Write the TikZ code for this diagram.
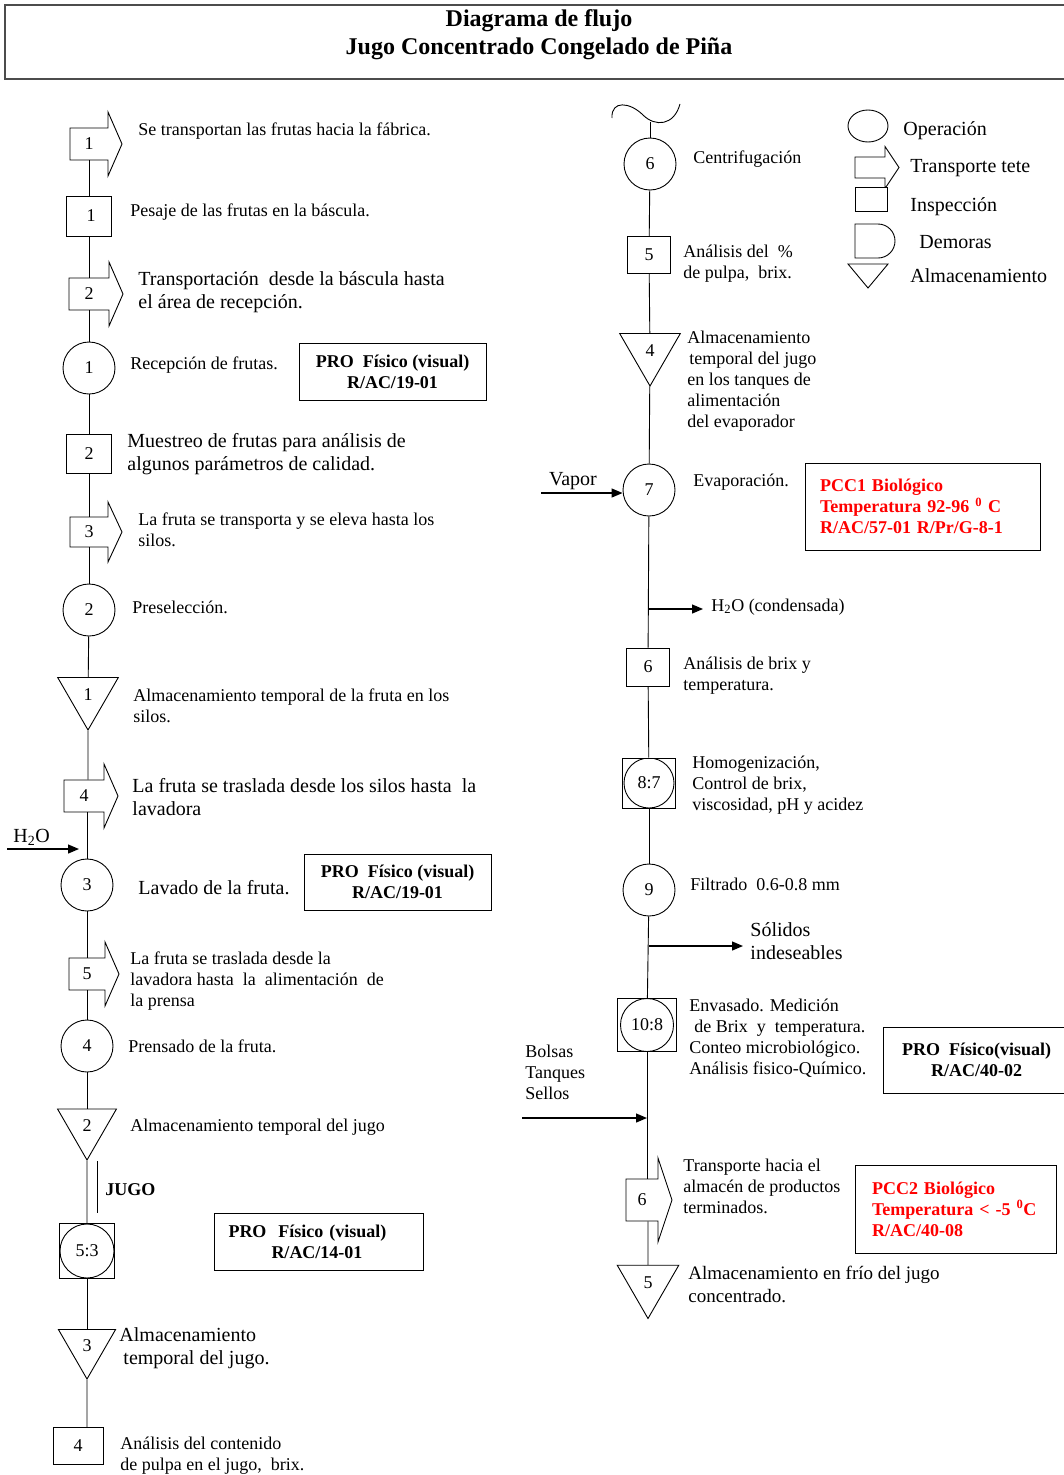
\documentclass[tikz,border=0pt]{standalone}
\usepackage{fontspec}
\setmainfont{Liberation Serif}
\usetikzlibrary{shapes.geometric,arrows.meta,calc}

\definecolor{pccrojo}{RGB}{255,0,0}
\newcommand{\letra}{\fontsize{18}{21}\selectfont}
\newcommand{\letrag}{\fontsize{20}{23}\selectfont}

% flecha de transporte: nombre, posicion, numero, media anchura, media altura
\newcommand{\transporte}[5]{%
  \draw[fill=white] ($(#2)+(-#4,-#5)$) -- ($(#2)+(#4,-#5)$) -- ($(#2)+(#4,-2*#5)$)
    -- ($(#2)+(#4+14,0)$) -- ($(#2)+(#4,2*#5)$) -- ($(#2)+(#4,#5)$) -- ($(#2)+(-#4,#5)$) -- cycle;
  \node[minimum width=2*#4, minimum height=2*#5, inner sep=0pt] (#1) at (#2) {#3};}

\begin{document}
\begin{tikzpicture}[x=1pt, y=-1pt, line width=0.9pt]

    \tikzset{
      every node/.style={font=\letra},
      op/.style={circle, draw, fill=white, minimum size=52pt, inner sep=0pt},
      insp/.style={rectangle, draw, fill=white, minimum width=44pt, minimum height=39pt, inner sep=0pt},
      alm/.style={regular polygon, regular polygon sides=3, shape border rotate=180,
        draw, fill=white, minimum size=70pt, inner sep=0pt},
      combo/.style={rectangle, draw, fill=white, inner sep=0pt,
        path picture={\draw[line width=0.9pt] (path picture bounding box.center) circle[radius=#1];}},
      txt/.style={anchor=west, align=left, inner sep=0pt},
      txtg/.style={txt, font=\letrag},
      pro/.style={draw, fill=white, inner sep=0pt, align=center, font=\letra\bfseries},
      pcc/.style={draw, fill=white, inner sep=0pt, align=left, text=pccrojo, font=\letra\bfseries},
      flujo/.style={line width=1.3pt, -{Triangle[length=11pt,width=9pt]}},
    }
    \useasboundingbox (0,0) rectangle (1064,1475);

    % titulo
    \draw[line width=1.5pt, black!70] (1066,5) -- (5,5) -- (5,79) -- (1066,79);
    \node[align=center, font=\fontsize{24}{28}\selectfont\bfseries] (titulo) at (539,35)
      {Diagrama de flujo\\Jugo Concentrado Congelado de Piña};

    % columna izquierda
    \transporte{tr1}{89,144}{1}{19}{16}
    \node[insp, minimum width=45pt, minimum height=40pt] (in1) at (89,216) {\hspace*{4pt}1};
    \transporte{tr2}{89,294}{2}{20}{16}
    \node[op] (op1) at (89,368) {1};
    \node[insp, minimum width=45pt] (in2) at (89,454) {2};
    \transporte{tr3}{89,532}{3}{19}{15}
    \node[op] (op2) at (89,610) {2};
    \node[alm] (al1) at (88,695) {1};
    \transporte{tr4}{84,796}{4}{20}{16}
    \node[op] (op3) at (87,885) {3};
    \transporte{tr5}{87,974}{5}{18}{16}
    \node[op] (op4) at (87,1046) {4};
    \node[alm, minimum size=68pt] (al2) at (87,1126) {2};
    \node[combo=27pt, minimum size=55pt] (co1) at (87,1251) {5:3};
    \node[alm, minimum size=66pt] (al3) at (87,1346) {3};
    \node[insp, minimum width=50pt, minimum height=37pt] (in4) at (78,1446) {4};

    \foreach \a/\b in {tr1/in1, in1/tr2, tr2/op1, op1/in2, in2/tr3, tr3/op2, op2/al1,
                       op3/tr5, tr5/op4, op4/al2, al2/co1, co1/al3}
      \draw (\a) -- (\b);
    \draw (al1) -- (al1 |- tr4.north);
    \draw (tr4.south -| op3) -- (op3);
    \draw (al3) -- (al3 |- in4.north);
    \draw (97,1161) -- (97,1213);

    \node[txt] (dtr1) at (138,131) {Se transportan las frutas hacia la fábrica.};
    \node[txt] (din1) at (130,212) {Pesaje de las frutas en la báscula.};
    \node[txtg] (dtr2) at (138,292.5) {Transportación~ desde la báscula hasta\\el área de recepción.};
    \node[txt] (dop1) at (130,365) {Recepción de frutas.};
    \node[txtg] (din2) at (127,454.5) {Muestreo de frutas para análisis de\\algunos parámetros de calidad.};
    \node[txt] (dtr3) at (138,530) {La fruta se transporta y se eleva hasta los\\silos.};
    \node[txt] (dop2) at (132,607) {Preselección.};
    \node[txt] (dal1) at (133,706) {Almacenamiento temporal de la fruta en los\\silos.};
    \node[txtg] (dtr4) at (132,797) {La fruta se traslada desde los silos hasta~ la\\lavadora};
    \node[txtg] (dop3) at (138,888) {Lavado de la fruta.};
    \node[txt] (dtr5) at (130,981) {La fruta se traslada desde la\\lavadora hasta~ la~ alimentación~ de\\la prensa};
    \node[txt] (dop4) at (128,1046) {Prensado de la fruta.};
    \node[txt] (dal2) at (130,1127) {Almacenamiento temporal del jugo};
    \node[txt, font=\letra\bfseries] (jugo) at (105,1190) {JUGO};
    \node[txtg] (dal3) at (119,1348.5) {Almacenamiento\\\hspace*{4pt}temporal del jugo.};
    \node[txt] (din4) at (120,1455.5) {Análisis del contenido\\de pulpa en el jugo,~ brix.};

    \node[pro, minimum width=187pt, minimum height=57pt] (pro1) at (392.5,371.5) {PRO~ Físico (visual)\\R/AC/19-01};
    \node[pro, minimum width=187pt, minimum height=56pt] (pro2) at (397.5,882) {PRO~ Físico (visual)\\R/AC/19-01};
    \node[pro, minimum width=209pt, minimum height=57pt, align=left, text width=180pt] (pro3) at (318.5,1241.5)
      {PRO~ Físico (visual)\\\hspace*{43pt}R/AC/14-01};

    \coordinate (h2oa) at (7,849);
    \coordinate (h2ob) at (79,849);
    \draw[flujo] (h2oa) -- (h2ob);
    \node[txtg] (h2o) at (13,837) {H\textsubscript{2}O};

    % columna derecha
    \coordinate (ondas) at (650,122);
    \draw (612,118) .. controls (611,100) and (630,102) .. (643,115) .. controls (655,127) and (674,126) .. (680,104);
    \node[op] (op6) at (650,164) {6};
    \node[insp, minimum width=43pt, minimum height=37pt] (in5) at (649,255) {5};
    \node[alm] (al4) at (650,351) {4};
    \node[op] (op7) at (649,490) {7};
    \node[insp, minimum width=43pt, minimum height=38pt] (in6) at (648,667) {6};
    \node[combo=25pt, minimum width=53pt, minimum height=50pt] (co2) at (649,783) {8:7};
    \node[op] (op9) at (649,890) {9};
    \node[combo=26.5pt, minimum width=59pt, minimum height=53pt] (co3) at (647,1025) {10:8};
    \transporte{tr6}{642,1200}{6}{16}{21}
    \node[alm, minimum size=71pt] (al5) at (648,1283) {5};

    \foreach \a/\b in {ondas/op6, op6/in5, in5/al4, al4/op7, op7/in6, in6/co2, co2/op9, op9/co3}
      \draw (\a) -- (\b);
    \draw (co3) -- (co3 |- tr6.north);
    \draw (tr6.south -| al5) -- (al5);

    \node[txt] (dop6) at (693,159) {Centrifugación};
    \node[txt] (din5) at (683,263.5) {Análisis del~ \%\\de pulpa,~ brix.};
    \node[txt] (dal4) at (687,381) {Almacenamiento\\\hspace*{2pt}temporal del jugo\\en los tanques de\\alimentación\\del evaporador};
    \node[txt] (dop7) at (693,482) {Evaporación.};
    \node[txt] (din6) at (683,675.5) {Análisis de brix y\\temperatura.};
    \node[txt] (dco2) at (692,785.5) {Homogenización,\\Control de brix,\\viscosidad, pH y acidez};
    \node[txt] (dop9) at (690,884) {Filtrado~ 0.6-0.8 mm};
    \node[txt] (dco3) at (689,1038.5) {Envasado. Medición\\\hspace*{5pt}de Brix~ y~ temperatura.\\Conteo microbiológico.\\Análisis fisico-Químico.};
    \node[txt] (dtr6) at (683,1186) {Transporte hacia el\\almacén de productos\\terminados.};
    \node[txt, font=\fontsize{19}{23}\selectfont] (dal5) at (688,1284.5) {Almacenamiento en frío del jugo\\concentrado.};

    \coordinate (vapa) at (541,493);
    \draw[flujo] (vapa) -- (vapa -| op7.west);
    \node[font=\letrag] (vapor) at (573,481) {Vapor};

    \coordinate (conda) at (649,609);
    \coordinate (condb) at (703,609);
    \draw[flujo] (conda) -- (condb);
    \node[txt] (cond) at (711,607) {H\textsubscript{2}O (condensada)};

    \coordinate (sola) at (649,946);
    \coordinate (solb) at (743,946);
    \draw[flujo] (sola) -- (solb);
    \node[txtg] (solidos) at (750,941.5) {Sólidos\\indeseables};

    \coordinate (bola) at (522,1118);
    \coordinate (bolb) at (647,1118);
    \draw[flujo] (bola) -- (bolb);
    \node[txt] (bolsas) at (525,1072) {Bolsas\\Tanques\\Sellos};

    \node[pcc, minimum width=235pt, minimum height=87pt, text width=205pt] (pcc1) at (922.5,506.5)
      {PCC1 Biológico\\Temperatura 92-96 \textsuperscript{0} C\\R/AC/57-01 R/Pr/G-8-1};
    \node[pro, minimum width=187pt, minimum height=66pt] (pro4) at (976.5,1060) {PRO~ Físico(visual)\\R/AC/40-02};
    \node[pcc, minimum width=201pt, minimum height=88pt, text width=167pt] (pcc2) at (955.5,1209)
      {PCC2 Biológico\\Temperatura < -5 \textsuperscript{0}C\\R/AC/40-08};

    % leyenda
    \node[ellipse, draw, minimum width=40pt, minimum height=32pt, inner sep=0pt] (lop) at (868,126) {};
    \transporte{ltr}{870,167.5}{}{15}{10.5}
    \node[insp, minimum width=32pt, minimum height=24pt] (lin) at (871,199) {};
    \draw (855,224) -- (878,224) arc[start angle=90, end angle=-90, radius=17pt] -- (855,258) -- cycle;
    \draw (848,264) -- (888,264) -- (868,288) -- cycle;
    \node[txtg] (llop) at (903,131) {Operación};
    \node[txtg] (lltr) at (910,168) {Transporte tete};
    \node[txtg] (llin) at (910,207) {Inspección};
    \node[txtg] (lldem) at (919,242) {Demoras};
    \node[txtg] (llal) at (910,276) {Almacenamiento};

\end{tikzpicture}
\end{document}
